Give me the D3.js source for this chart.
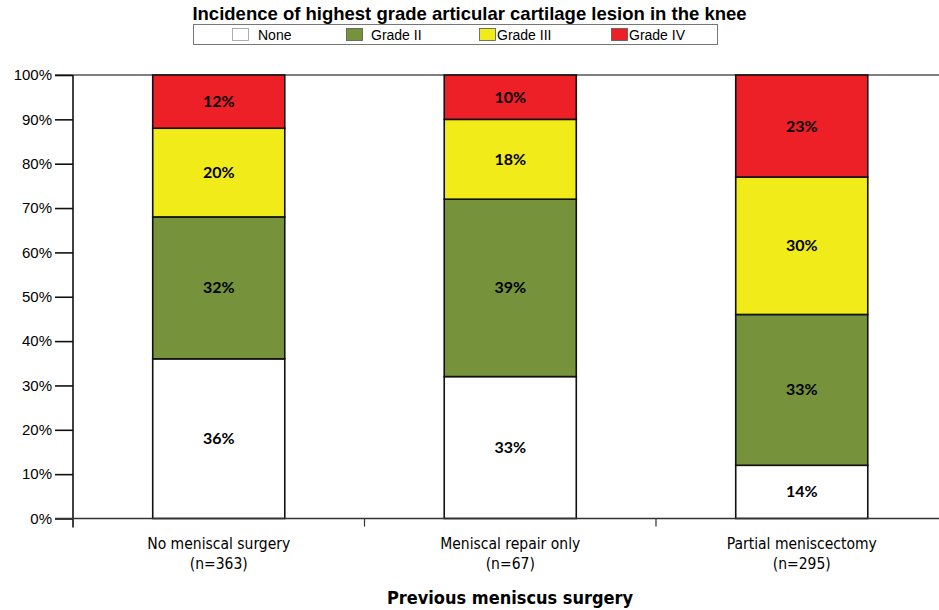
<!DOCTYPE html>
<html lang="en">
<head>
<meta charset="UTF-8">
<script src="https://d3js.org/d3.v7.min.js"></script>
<title>Cartilage lesion incidence</title>
<style>
	body { margin: 0; background: #fff; }
	.title { font-family: "Liberation Sans", Arial, sans-serif; font-weight: bold; font-size: 18.5px; fill: #000; }
	.legend text { font-family: "Liberation Sans", Arial, sans-serif; font-size: 14px; fill: #000; }
	.yaxis text { font-family: "Liberation Sans", Arial, sans-serif; font-size: 15px; fill: #000; }
	.xaxis text { font-family: "Liberation Sans Narrow", "DejaVu Sans Condensed", sans-serif; font-size: 15.5px; fill: #000; }
	.xtitle { font-family: "Liberation Sans Narrow", "DejaVu Sans Condensed", sans-serif; font-weight: bold; font-size: 18px; fill: #000; }
	.val { font-family: Lato, "Open Sans", sans-serif; font-weight: bold; font-size: 16px; fill: #000; }
</style>
</head>
<body>
<script>
// data
const categories = ["No meniscal surgery", "Meniscal repair only", "Partial meniscectomy"];
const sampleSizes = ["(n=363)", "(n=67)", "(n=295)"];
const grades = ["None", "Grade II", "Grade III", "Grade IV"];
// segment heights as drawn (percent)
const noneVals = [36, 32, 12];
const grade2Vals = [32, 40, 34];
const grade3Vals = [20, 18, 31];
const grade4Vals = [12, 10, 23];
// printed labels
const noneLabels = ["36%", "33%", "14%"];
const grade2Labels = ["32%", "39%", "33%"];
const grade3Labels = ["20%", "18%", "30%"];
const grade4Labels = ["12%", "10%", "23%"];
const yTicks = [0, 10, 20, 30, 40, 50, 60, 70, 80, 90, 100];
const colors = ["#ffffff", "#76933c", "#f2eb1a", "#ed2028"];

const W = 939, H = 610;
const svg = d3.select("body").append("svg").attr("width", W).attr("height", H);

const x = d3.scaleBand().domain(categories).range([73, 947.5]).padding(0);
const y = d3.scaleLinear().domain([0, 100]).range([518.5, 75]);
const barW = x.bandwidth() * 0.453;

const vals = [noneVals, grade2Vals, grade3Vals, grade4Vals];
const labs = [noneLabels, grade2Labels, grade3Labels, grade4Labels];
const rows = categories.map(function (c, i) {
	const r = { cat: c };
	grades.forEach(function (g, k) { r[g] = vals[k][i]; });
	return r;
});
const series = d3.stack().keys(grades)(rows);

// title
svg.append("text").attr("class", "title")
	.attr("x", 469.5).attr("y", 20).attr("text-anchor", "middle")
	.text("Incidence of highest grade articular cartilage lesion in the knee");

// legend
const lg = svg.append("g").attr("class", "legend");
lg.append("rect").attr("x", 193.5).attr("y", 24.5).attr("width", 524).attr("height", 20)
	.attr("fill", "#fff").attr("stroke", "#777").attr("stroke-width", 1);
const legX = [232, 346, 479, 611];
const legTx = [258, 371, 497, 629];
grades.forEach(function (g, k) {
	lg.append("rect").attr("x", legX[k] + 0.5).attr("y", 28.5).attr("width", 16).attr("height", 12)
		.attr("fill", colors[k]).attr("stroke", k === 0 ? "#999" : "#555").attr("stroke-width", 0.8);
	lg.append("text").attr("x", legTx[k]).attr("y", 40).text(g);
});

// top gridline at 100%
svg.append("line").attr("x1", 55).attr("x2", W).attr("y1", y(100)).attr("y2", y(100))
	.attr("stroke", "#555").attr("stroke-width", 1.5);

// bars
const layer = svg.append("g").selectAll("g").data(series).enter().append("g")
	.attr("fill", function (d, k) { return colors[k]; });
layer.selectAll("rect").data(function (d) { return d; }).enter().append("rect")
	.attr("x", function (d) { return x(d.data.cat) + (x.bandwidth() - barW) / 2; })
	.attr("y", function (d) { return y(d[1]); })
	.attr("width", barW)
	.attr("height", function (d) { return y(d[0]) - y(d[1]); })
	.attr("stroke", "#111").attr("stroke-width", 1.6);

// value labels
series.forEach(function (s, k) {
	svg.append("g").selectAll("text").data(s).enter().append("text")
		.attr("class", "val")
		.attr("x", function (d) { return x(d.data.cat) + x.bandwidth() / 2; })
		.attr("y", function (d) { return y((d[0] + d[1]) / 2); })
		.attr("dy", "0.35em")
		.attr("text-anchor", "middle")
		.text(function (d, i) { return labs[k][i]; });
});

// y axis
const yAxis = svg.append("g").attr("class", "yaxis").attr("transform", "translate(73,0)")
	.call(d3.axisLeft(y).tickValues(yTicks).tickFormat(function (d) { return d + "%"; })
		.tickSize(18).tickPadding(3));
yAxis.select(".domain").remove();
yAxis.selectAll(".tick line").attr("stroke", "#111").attr("stroke-width", 1.6);
svg.append("line").attr("x1", 73).attr("x2", 73).attr("y1", y(100)).attr("y2", y(0) + 9)
	.attr("stroke", "#111").attr("stroke-width", 1.6);

// x axis
svg.append("line").attr("x1", 55).attr("x2", W).attr("y1", y(0)).attr("y2", y(0))
	.attr("stroke", "#333").attr("stroke-width", 1.6);
svg.append("g").selectAll("line").data(categories.slice(1)).enter().append("line")
	.attr("x1", function (d) { return x(d); }).attr("x2", function (d) { return x(d); })
	.attr("y1", y(0)).attr("y2", y(0) + 8)
	.attr("stroke", "#333").attr("stroke-width", 1.2);

const xAxis = svg.append("g").attr("class", "xaxis").attr("transform", "translate(0," + y(0) + ")")
	.call(d3.axisBottom(x).tickSize(0).tickPadding(19));
xAxis.select(".domain").remove();
xAxis.selectAll(".tick text").each(function (d, i) {
	const t = d3.select(this);
	t.text(null);
	t.append("tspan").attr("x", 0).text(d);
	t.append("tspan").attr("x", 0).attr("dy", "1.35em").text(sampleSizes[i]);
});

svg.append("text").attr("class", "xtitle")
	.attr("x", 510).attr("y", 604).attr("text-anchor", "middle")
	.text("Previous meniscus surgery");
</script>
</body>
</html>
